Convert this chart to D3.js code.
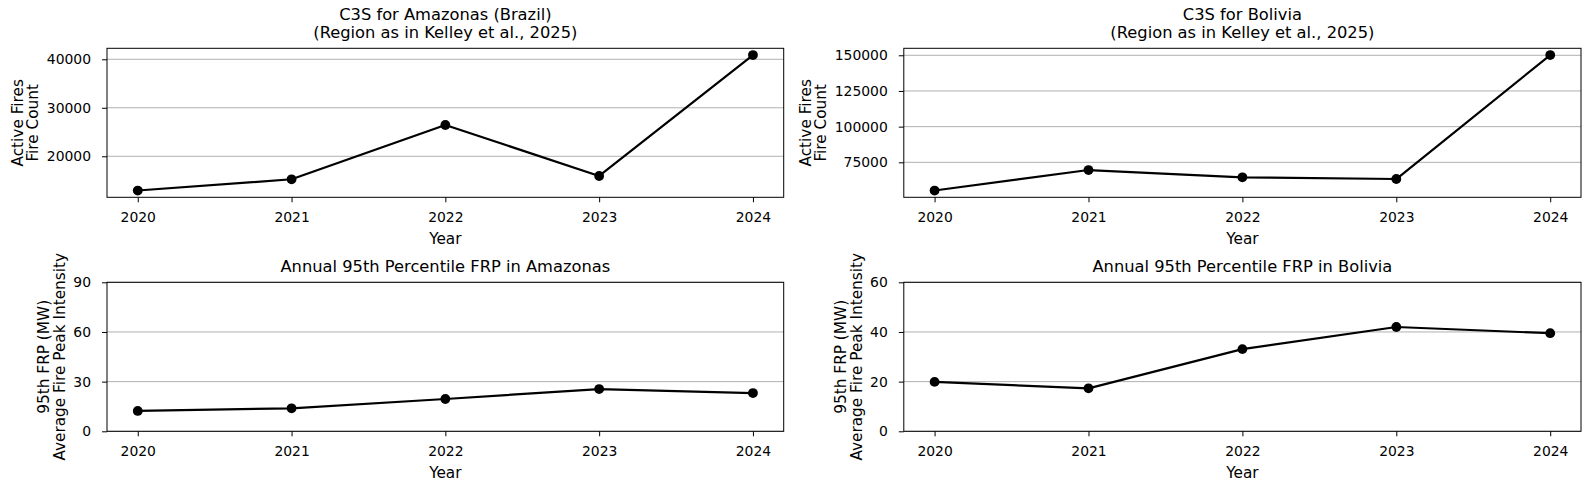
<!DOCTYPE html>
<html><head><meta charset="utf-8">
<script src="https://cdn.jsdelivr.net/npm/d3@7"></script>
<style>
html,body{margin:0;padding:0;background:#fff;}
svg{display:block;font-family:"DejaVu Sans",sans-serif;}
</style></head>
<body>
<svg id="chart" width="1589" height="490"></svg>
<script>
// ---- data ----
const years = [2020, 2021, 2022, 2023, 2024];
const amazonasFireCount = [12940, 15260, 26450, 15940, 40870];
const boliviaFireCount = [55240, 69600, 64500, 63300, 150150];
const amazonasFRP95 = [12.3, 13.9, 19.5, 25.5, 23.1];
const boliviaFRP95 = [19.9, 17.3, 33.1, 42.0, 39.5];
const amazonasCountTicks = [20000, 30000, 40000];
const boliviaCountTicks = [75000, 100000, 125000, 150000];
const amazonasFRPTicks = [0, 30, 60, 90];
const boliviaFRPTicks = [0, 20, 40, 60];
const titles = [
  ["C3S for Amazonas (Brazil)", "(Region as in Kelley et al., 2025)"],
  ["C3S for Bolivia", "(Region as in Kelley et al., 2025)"],
  ["Annual 95th Percentile FRP in Amazonas"],
  ["Annual 95th Percentile FRP in Bolivia"]
];
const countLabel = ["Active Fires", "Fire Count"];
const frpLabel = ["95th FRP (MW)", "Average Fire Peak Intensity"];
const xLabel = "Year";

// ---- layout ----
const svg = d3.select("#chart");
const cols = [{l:107, r:783.7}, {l:903.8, r:1581}];
const rows = [{t:48.3, b:197.3}, {t:282.3, b:431.3}];

const panels = [
  {col:0,row:0,vals:amazonasFireCount,ticks:amazonasCountTicks,domain:null,title:titles[0],ylab:countLabel},
  {col:1,row:0,vals:boliviaFireCount,ticks:boliviaCountTicks,domain:null,title:titles[1],ylab:countLabel},
  {col:0,row:1,vals:amazonasFRP95,ticks:amazonasFRPTicks,domain:[0,90],title:titles[2],ylab:frpLabel},
  {col:1,row:1,vals:boliviaFRP95,ticks:boliviaFRPTicks,domain:[0,60],title:titles[3],ylab:frpLabel}
];

const tickFont = 13.9, labFont = 15.3, titleFont = 16.3;

panels.forEach(p => {
  const L = cols[p.col].l, R = cols[p.col].r, T = rows[p.row].t, B = rows[p.row].b;
  const x = d3.scaleLinear().domain([years[0]-0.2, years[years.length-1]+0.2]).range([L, R]);
  let dom = p.domain;
  if (!dom) {
    const mn = d3.min(p.vals), mx = d3.max(p.vals), pad = (mx-mn)*0.05;
    dom = [mn-pad, mx+pad];
  }
  const y = d3.scaleLinear().domain(dom).range([B, T]);
  const g = svg.append("g");

  // grid
  g.append("g").selectAll("line").data(p.ticks).join("line")
    .attr("x1", L).attr("x2", R)
    .attr("y1", d => y(d)).attr("y2", d => y(d))
    .attr("stroke", "#b0b0b0").attr("stroke-width", 1);

  // x axis
  const xa = g.append("g").attr("transform", `translate(0,${B})`)
    .call(d3.axisBottom(x).tickValues(years).tickFormat(d3.format("d")).tickSize(5).tickPadding(10));
  xa.select(".domain").remove();
  xa.selectAll(".tick line").attr("stroke", "#000").attr("stroke-width", 1);
  xa.selectAll(".tick text").attr("font-size", tickFont).attr("font-family", "DejaVu Sans").attr("fill", "#000");

  // y axis
  const ya = g.append("g").attr("transform", `translate(${L},0)`)
    .call(d3.axisLeft(y).tickValues(p.ticks).tickFormat(d3.format("d")).tickSize(5).tickPadding(11));
  ya.select(".domain").remove();
  ya.selectAll(".tick line").attr("stroke", "#000").attr("stroke-width", 1);
  ya.selectAll(".tick text").attr("font-size", tickFont).attr("font-family", "DejaVu Sans").attr("fill", "#000");

  // frame
  g.append("rect").attr("x", L).attr("y", T).attr("width", R-L).attr("height", B-T)
    .attr("fill", "none").attr("stroke", "#000").attr("stroke-width", 1);

  // line + markers
  const pts = years.map((yr, i) => [yr, p.vals[i]]);
  g.append("path").datum(pts)
    .attr("d", d3.line().x(d => x(d[0])).y(d => y(d[1])))
    .attr("fill", "none").attr("stroke", "#000").attr("stroke-width", 2.2).attr("stroke-linejoin", "round");
  g.append("g").selectAll("circle").data(pts).join("circle")
    .attr("cx", d => x(d[0])).attr("cy", d => y(d[1])).attr("r", 4.9).attr("fill", "#000");

  // title
  const cx = (L+R)/2;
  const nT = p.title.length;
  p.title.forEach((t, i) => {
    g.append("text").attr("x", cx).attr("y", T - 10 - (nT-1-i)*18.6)
      .attr("text-anchor", "middle").attr("font-size", titleFont).attr("fill", "#000").text(t);
  });

  // x label
  g.append("text").attr("x", cx).attr("y", B + 46.5)
    .attr("text-anchor", "middle").attr("font-size", labFont).attr("fill", "#000").text(xLabel);

  // y label: position from tick labels extent
  let minX = Infinity;
  ya.selectAll(".tick text").each(function(){ const b = this.getBBox(); minX = Math.min(minX, L + b.x); });
  const yc = (T+B)/2;
  const base2 = minX - 8.5;
  const sp = 15.5;
  const lab = g.append("text").attr("transform", `translate(${base2 - sp},${yc}) rotate(-90)`)
    .attr("text-anchor", "middle").attr("font-size", labFont).attr("fill", "#000");
  p.ylab.forEach((t, i) => {
    lab.append("tspan").attr("x", 0).attr("y", i*sp).text(t);
  });
});
</script>
</body></html>
